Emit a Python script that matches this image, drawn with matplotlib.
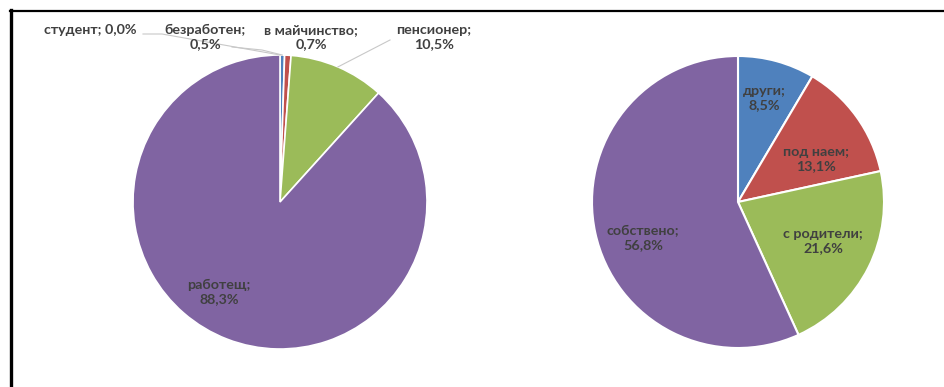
import numpy as np
import matplotlib
matplotlib.use("Agg")
import matplotlib.pyplot as plt
from matplotlib.lines import Line2D

# Left pie: employment status
status_labels = ["студент", "безработен", "в майчинство", "пенсионер", "работещ"]
status_values = [0.0, 0.5, 0.7, 10.5, 88.3]
status_colors = ["#4BACC6", "#4F81BD", "#C0504D", "#9BBB59", "#8064A2"]

# Right pie: housing
home_labels = ["други", "под наем", "с родители", "собствено"]
home_values = [8.5, 13.1, 21.6, 56.8]
home_colors = ["#4F81BD", "#C0504D", "#9BBB59", "#8064A2"]

W, H = 945, 387
TEXT = "#404040"
FONT = dict(family=["Lato", "DejaVu Sans"], fontsize=10.3, fontweight="bold", color=TEXT)


def pct(v):
    return f"{v:.1f}%".replace(".", ",")


fig = plt.figure(figsize=(W / 100, H / 100), dpi=100)
ax = fig.add_axes([0, 0, 1, 1])


# pixel-like coordinates, y measured from the top
def py(y):
    return H - y


left_c, left_r = (280, py(202)), 147
right_c, right_r = (738, py(202)), 146

ax.pie(status_values, colors=status_colors, startangle=90, counterclock=False,
       center=left_c, radius=left_r, frame=True,
       wedgeprops=dict(edgecolor="white", linewidth=1.2))
ax.pie(home_values, colors=home_colors, startangle=90, counterclock=False,
       center=right_c, radius=right_r, frame=True,
       wedgeprops=dict(edgecolor="white", linewidth=1.5))
ax.set_xlim(0, W)
ax.set_ylim(0, H)
ax.set_aspect("equal")
ax.axis("off")


def edge_point(values, i, center, r):
    start = sum(values[:i]) / 100 * 360
    mid = np.deg2rad(start + values[i] / 100 * 360 / 2)
    return center[0] + r * np.sin(mid), center[1] + r * np.cos(mid)


# outside labels of the left pie: text position and leader path (before the edge point)
outside = {
    0: ((90, 30), [(143, 34), (162, 34)]),
    1: ((205, 37), [(232, 47), (262, 50)]),
    2: ((311, 37), None),
    3: ((434, 37), [(390, 40)]),
}
for i, ((tx, ty), path) in outside.items():
    if i == 0:
        txt = f"{status_labels[i]}; {pct(status_values[i])}"
    else:
        txt = f"{status_labels[i]};\n{pct(status_values[i])}"
    ax.text(tx, py(ty), txt, ha="center", va="center", linespacing=1.2, **FONT)
    if path:
        ex, ey = edge_point(status_values, i, left_c, left_r)
        xs = [p[0] for p in path] + [ex]
        ys = [py(p[1]) for p in path] + [ey]
        ax.plot(xs, ys, color="#C8C8C8", linewidth=0.8)

ax.text(219, py(292), f"{status_labels[4]};\n{pct(status_values[4])}",
        ha="center", va="center", linespacing=1.2, **FONT)

# inside labels of the right pie
inside = [(764, 98), (816, 159), (823, 241), (643, 238)]
for (tx, ty), lab, v in zip(inside, home_labels, home_values):
    ax.text(tx, py(ty), f"{lab};\n{pct(v)}", ha="center", va="center",
            linespacing=1.2, **FONT)

# frame lines along the top and left edge
fig.add_artist(Line2D([10 / W, 1], [1 - 10.5 / H, 1 - 10.5 / H],
                      color="black", linewidth=1.6, transform=fig.transFigure))
fig.add_artist(Line2D([10.5 / W, 10.5 / W], [0, 1 - 10 / H],
                      color="black", linewidth=2.4, transform=fig.transFigure))

fig.savefig("out.png", dpi=100, facecolor="white")
